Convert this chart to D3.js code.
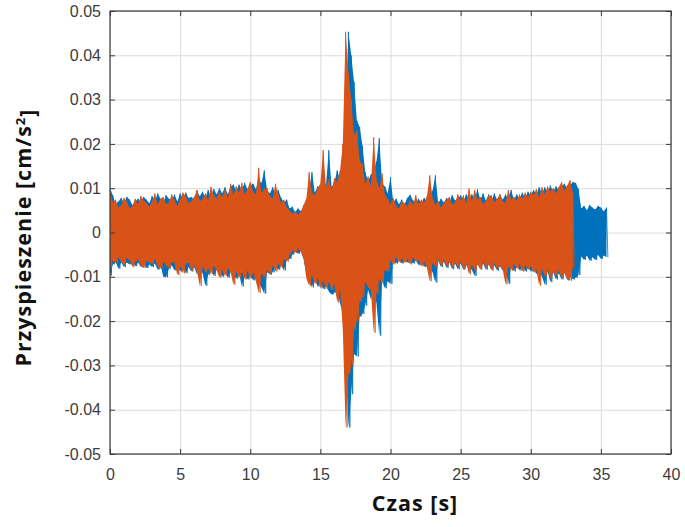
<!DOCTYPE html>
<html>
<head>
<meta charset="utf-8">
<script src="https://cdn.jsdelivr.net/npm/d3@7/dist/d3.min.js"></script>
<style>
  html, body { margin: 0; padding: 0; background: #fff; }
  svg { display: block; }
</style>
</head>
<body>
<svg id="chart" width="685" height="527"></svg>
<script>
// Acceleration record: peak envelope of the two channels, one sample every 0.2 s.
// Values are in units of 0.001 cm/s^2.
const sampleStep = 0.2;

const orangeUpper = [
  9.2, 6.8, 7.4, 5.6, 6.2,   7.8, 7.0, 5.4, 6.0, 7.6,
  6.4, 8.2, 7.2, 6.6, 5.8,   7.0, 8.8, 6.2, 7.6, 8.0,
  6.4, 6.8, 8.6, 7.2, 6.0,   7.4, 9.0, 8.2, 6.6, 7.0,
  8.0, 9.6, 7.0, 7.6, 8.8,   7.2, 10.3, 8.4, 7.6, 9.2,
  8.0, 9.6, 7.8, 11.0, 8.4,  10.4, 9.0, 11.2, 8.6, 9.8,
  11.4, 9.2, 8.6, 14.6, 9.0, 9.8, 10.0, 8.2, 7.6, 11.0,
  8.6, 6.6, 7.4, 5.6, 5.0,   4.2, 4.8, 4.0, 4.6, 6.2,
  7.6, 13.6, 9.0, 8.4, 10.0, 11.0, 18.6, 10.2, 12.0, 9.6,
  12.2, 11.4, 13.8, 20.0, 45.3, 36.0, 30.0, 22.0, 23.0, 16.0,
  15.4, 11.0, 12.6, 10.4, 21.5, 12.0, 9.8, 13.3, 8.4, 7.6,
  6.4, 7.8, 6.0, 5.4, 7.0,   6.6, 5.8, 7.2, 6.2, 8.4,
  6.4, 7.4, 6.8, 8.2, 12.9,  7.8, 6.2, 7.0, 5.6, 6.6,
  7.4, 8.0, 6.2, 6.8, 8.6,   7.2, 8.4, 6.6, 9.9, 7.0,
  9.6, 7.4, 8.0, 6.4, 7.0,   8.2, 8.4, 6.8, 7.6, 8.6,
  7.0, 6.6, 9.6, 7.4, 8.0,   7.2, 8.6, 7.6, 9.0, 7.8,
  9.2, 8.4, 9.8, 7.8, 10.2,  8.6, 10.4, 9.2, 10.0, 8.8,
  10.2, 11.4, 9.4, 10.6, 11.8, 9.0
];

const orangeLower = [
  -8.0, -6.4, -7.0, -5.6, -6.8,  -7.4, -5.8, -6.2, -7.8, -6.6,
  -6.0, -7.6, -8.0, -6.4, -6.8,  -7.2, -6.0, -7.8, -8.2, -6.6,
  -7.4, -8.0, -6.6, -7.0, -9.6,  -7.6, -9.2, -7.0, -6.8, -8.6,
  -7.4, -8.8, -12.0, -7.6, -9.0, -8.0, -9.4, -7.4, -8.6, -10.2,
  -8.4, -9.8, -8.0, -9.0, -11.8, -8.8, -10.2, -9.0, -10.6, -8.6,
  -10.4, -9.0, -11.0, -13.6, -9.2, -10.2, -8.4, -9.6, -7.4, -8.8,
  -7.0, -8.0, -6.0, -6.6, -4.8,  -4.0, -4.6, -3.6, -4.4, -5.6,
  -10.4, -12.0, -9.6, -11.6, -10.2, -12.6, -10.8, -12.8, -11.2, -13.0,
  -11.6, -15.8, -12.6, -22.0, -44.0, -32.0, -30.0, -22.0, -20.0, -15.6,
  -14.6, -11.0, -12.4, -13.0, -22.6, -13.8, -10.4, -11.6, -8.4, -8.8,
  -6.2, -7.2, -5.4, -6.8, -5.8,  -6.8, -6.0, -7.2, -5.6, -6.6,
  -6.2, -7.6, -6.6, -8.0, -11.0, -6.8, -7.8, -6.0, -7.4, -6.2,
  -7.6, -6.4, -8.0, -6.8, -7.8,  -6.6, -8.2, -7.0, -9.4, -7.2,
  -8.6, -7.0, -8.4, -6.6, -8.0,  -7.0, -8.6, -6.8, -8.2, -7.4,
  -8.4, -11.7, -7.6, -8.6, -7.0, -8.2, -7.0, -8.8, -7.4, -8.4,
  -7.6, -9.0, -8.4, -12.0, -8.2, -10.0, -8.4, -10.4, -8.8, -9.8,
  -8.6, -10.2, -9.2, -10.4, -10.9, -8.0
];

const blueUpper = [
  10.0, 8.4, 6.4, 7.0, 7.8,   6.6, 8.0, 7.4, 6.2, 7.0,
  7.6, 6.8, 8.0, 7.4, 6.6,    8.2, 7.0, 8.8, 7.6, 6.8,
  8.4, 7.6, 7.2, 8.6, 7.0,    8.8, 7.6, 9.0, 7.8, 8.0,
  7.4, 9.4, 8.2, 9.2, 7.8,    9.6, 8.0, 9.8, 8.6, 10.0,
  8.8, 10.2, 8.6, 10.4, 10.8, 9.4, 10.8, 9.6, 11.2, 9.8,
  10.6, 11.0, 9.8, 11.8, 11.2, 14.0, 9.6, 8.8, 10.2, 8.6,
  9.6, 7.8, 6.8, 7.4, 5.4,    5.8, 4.6, 5.4, 4.8, 5.6,
  7.2, 9.4, 13.6, 9.0, 10.4,  10.2, 11.6, 10.6, 18.6, 10.2,
  11.4, 14.0, 12.0, 16.0, 24.0, 45.3, 40.0, 34.0, 25.3, 23.8,
  19.6, 13.6, 11.6, 13.0, 14.0, 16.0, 21.3, 11.0, 10.4, 8.8,
  12.5, 6.8, 7.6, 6.4, 7.4,   6.4, 7.8, 8.5, 7.2, 6.6,
  7.6, 6.6, 7.8, 7.0, 8.4,    9.4, 12.9, 6.6, 7.6, 6.8,
  7.8, 7.0, 8.4, 7.2, 7.6,    8.4, 7.0, 8.6, 7.6, 8.6,
  7.2, 9.8, 7.4, 8.8, 7.2,    8.6, 7.0, 8.8, 7.4, 8.6,
  7.4, 8.6, 7.6, 9.6, 7.4,    8.6, 7.6, 9.0, 7.8, 9.2,
  8.4, 9.6, 8.6, 10.2, 8.8,   10.2, 9.0, 10.6, 9.2, 10.4,
  9.6, 10.4, 11.0, 9.8, 10.6, 11.4, 11.2, 9.8, 5.4, 6.0,
  5.0, 6.2, 5.6, 5.2, 6.0,    5.6, 4.8, 5.6
];

const blueLower = [
  -9.7, -7.2, -6.6, -8.2, -6.8,  -7.8, -6.8, -7.2, -6.6, -7.6,
  -6.8, -7.8, -7.0, -8.0, -7.2,  -7.8, -7.0, -8.4, -7.4, -10.0,
  -10.1, -8.2, -7.4, -8.6, -7.6, -8.8, -7.6, -9.2, -7.8, -8.8,
  -7.8, -9.4, -8.2, -9.2, -12.0, -9.6, -8.2, -9.8, -8.4, -8.8,
  -10.0, -8.8, -10.2, -9.0, -9.8, -10.4, -9.2, -12.2, -9.6, -10.6,
  -9.6, -10.8, -9.8, -11.0, -12.4, -13.8, -9.0, -9.4, -9.0, -7.6,
  -8.4, -7.2, -8.6, -6.2, -6.0,  -5.0, -4.2, -4.8, -4.2, -6.0,
  -9.2, -10.6, -12.4, -10.2, -12.2, -11.0, -12.8, -11.4, -13.4, -14.0,
  -13.6, -12.8, -16.0, -18.0, -24.0, -44.0, -36.5, -27.4, -28.0, -19.0,
  -18.4, -16.5, -13.0, -15.0, -12.6, -16.0, -23.3, -11.0, -12.6, -11.0,
  -11.6, -6.4, -7.0, -6.0, -7.0,  -6.2, -6.8, -6.4, -7.0, -6.2,
  -7.4, -6.4, -7.8, -6.8, -8.0,   -9.0, -11.3, -6.4, -7.8, -6.6,
  -8.0, -6.8, -8.3, -7.0, -8.3,   -7.0, -8.4, -7.4, -8.0, -8.4,
  -9.8, -7.2, -8.2, -7.0, -8.4,   -7.2, -8.4, -7.4, -8.6, -7.6,
  -8.6, -7.6, -11.6, -7.4, -8.8,  -7.2, -8.6, -7.4, -8.8, -7.6,
  -8.8, -8.0, -9.4, -8.4, -10.0,  -11.8, -8.8, -11.2, -9.0, -10.6,
  -9.2, -10.6, -9.0, -10.8, -9.4, -10.6, -10.2, -9.6, -5.4, -6.2,
  -5.2, -6.4, -5.6, -6.2, -5.0,   -6.0, -5.2, -5.6
];

const xTicks = [0, 5, 10, 15, 20, 25, 30, 35, 40];
const yTicks = [-0.05, -0.04, -0.03, -0.02, -0.01, 0, 0.01, 0.02, 0.03, 0.04, 0.05];
const yTickLabels = ["-0.05", "-0.04", "-0.03", "-0.02", "-0.01", "0", "0.01", "0.02", "0.03", "0.04", "0.05"];

const xTitle = "Czas [s]";
const yTitle = "Przyspieszenie [cm/s";
const yTitleSup = "2";

const colors = { blue: "#0072BD", orange: "#D95319" };

// Layout
const plot = { left: 110, right: 671, top: 11, bottom: 454 };
const svg = d3.select("#chart");

const x = d3.scaleLinear().domain([0, 40]).range([plot.left, plot.right]);
const y = d3.scaleLinear().domain([-0.05, 0.05]).range([plot.bottom, plot.top]);

// Grid
const grid = svg.append("g").attr("class", "grid");
grid.append("g")
  .attr("transform", `translate(0,${plot.bottom})`)
  .call(d3.axisBottom(x).tickValues(xTicks).tickSize(-(plot.bottom - plot.top)).tickFormat(""))
  .call(g => g.select(".domain").remove())
  .call(g => g.selectAll("line").attr("stroke", "#dadada").attr("stroke-width", 1));
grid.append("g")
  .attr("transform", `translate(${plot.left},0)`)
  .call(d3.axisLeft(y).tickValues(yTicks).tickSize(-(plot.right - plot.left)).tickFormat(""))
  .call(g => g.select(".domain").remove())
  .call(g => g.selectAll("line").attr("stroke", "#dadada").attr("stroke-width", 1));

// Signal traces
svg.append("defs").append("clipPath").attr("id", "plot-clip")
  .append("rect")
  .attr("x", plot.left).attr("y", plot.top)
  .attr("width", plot.right - plot.left).attr("height", plot.bottom - plot.top);

const traces = svg.append("g").attr("clip-path", "url(#plot-clip)");

function drawTrace(upper, lower, color) {
  const samples = upper.map((u, i) => ({ t: i * sampleStep, hi: u / 1000, lo: lower[i] / 1000 }));

  // solid body of the oscillation
  traces.append("path")
    .datum(samples)
    .attr("fill", color)
    .attr("d", d3.area().x(d => x(d.t)).y0(d => y(d.lo)).y1(d => y(d.hi)));

  // swing between the peaks of each sample interval
  const swing = [];
  samples.forEach(d => {
    swing.push([d.t, d.hi]);
    swing.push([d.t + sampleStep / 2, d.lo]);
  });
  traces.append("path")
    .datum(swing)
    .attr("fill", "none")
    .attr("stroke", color)
    .attr("stroke-width", 0.8)
    .attr("stroke-linejoin", "bevel")
    .attr("d", d3.line().x(d => x(d[0])).y(d => y(d[1])));
}

drawTrace(blueUpper, blueLower, colors.blue);
drawTrace(orangeUpper, orangeLower, colors.orange);

// Axes frame with inward ticks on all four sides
const axisColor = "#3a3a3a";
const tickLen = 5;
const labelFont = "'Liberation Sans', Arial, Helvetica, sans-serif";

function styleAxis(g) {
  g.select(".domain").remove();
  g.selectAll(".tick line").attr("stroke", axisColor).attr("stroke-width", 1);
  g.selectAll(".tick text")
    .attr("fill", "#3c3c3c")
    .style("font-family", labelFont)
    .style("font-size", "16px");
}

svg.append("g")
  .attr("transform", `translate(0,${plot.bottom})`)
  .call(d3.axisBottom(x).tickValues(xTicks).tickSize(-tickLen).tickPadding(15).tickFormat(d3.format("d")))
  .call(styleAxis);

svg.append("g")
  .attr("transform", `translate(0,${plot.top})`)
  .call(d3.axisTop(x).tickValues(xTicks).tickSize(-tickLen).tickFormat(""))
  .call(styleAxis);

svg.append("g")
  .attr("transform", `translate(${plot.left},0)`)
  .call(d3.axisLeft(y).tickValues(yTicks).tickSize(-tickLen).tickPadding(9)
    .tickFormat((d, i) => yTickLabels[i]))
  .call(styleAxis);

svg.append("g")
  .attr("transform", `translate(${plot.right},0)`)
  .call(d3.axisRight(y).tickValues(yTicks).tickSize(-tickLen).tickFormat(""))
  .call(styleAxis);

svg.append("rect")
  .attr("x", plot.left).attr("y", plot.top)
  .attr("width", plot.right - plot.left).attr("height", plot.bottom - plot.top)
  .attr("fill", "none").attr("stroke", axisColor).attr("stroke-width", 1.2);

// Axis titles
const titleFont = "'Open Sans', 'Noto Sans', sans-serif";

svg.append("text")
  .attr("x", 415).attr("y", 511)
  .attr("text-anchor", "middle")
  .style("font-family", titleFont)
  .style("font-weight", "700")
  .style("font-size", "21.5px")
  .style("letter-spacing", "1px")
  .attr("fill", "#111")
  .text(xTitle);

const yLabel = svg.append("text")
  .attr("transform", `translate(31,${(plot.top + plot.bottom) / 2 + 5}) rotate(-90)`)
  .attr("text-anchor", "middle")
  .style("font-family", titleFont)
  .style("font-weight", "700")
  .style("font-size", "21.5px")
  .style("letter-spacing", "1px")
  .attr("fill", "#111");
yLabel.append("tspan").text(yTitle);
yLabel.append("tspan").attr("dy", "-0.45em").style("font-size", "13px").text(yTitleSup);
yLabel.append("tspan").attr("dy", "0.45em").text("]");
</script>
</body>
</html>
